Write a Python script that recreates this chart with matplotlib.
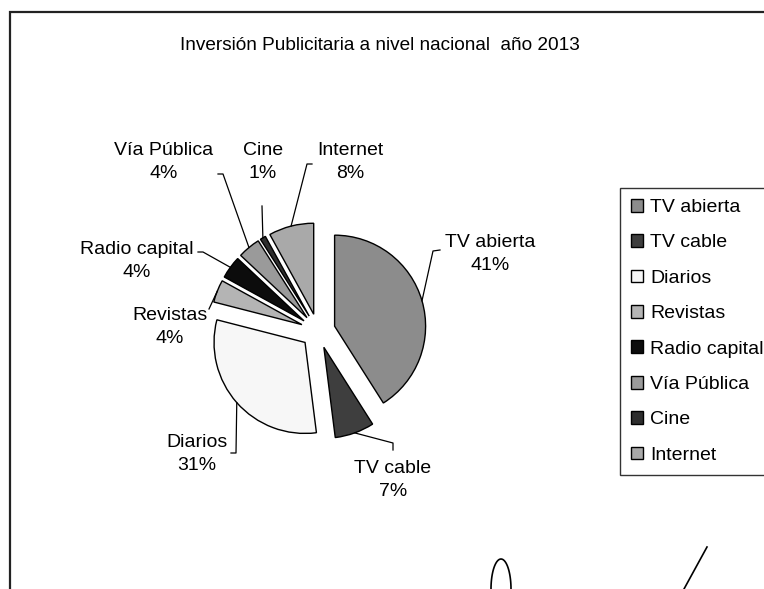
import numpy as np
import matplotlib.pyplot as plt
from matplotlib.lines import Line2D
from matplotlib.patches import Rectangle

plt.rcParams['font.family'] = ['Liberation Sans', 'DejaVu Sans']

# data
categories = ['TV abierta', 'TV cable', 'Diarios', 'Revistas', 'Radio capital',
              'Vía Pública', 'Cine', 'Internet']
shares = [41, 7, 31, 4, 4, 4, 1, 8]
colors = ['#8c8c8c', '#3e3e3e', '#f7f7f7', '#b4b4b4', '#0c0c0c',
          '#9a9a9a', '#2e2e2e', '#a9a9a9']
title = 'Inversión Publicitaria a nivel nacional  año 2013'

W, H = 764, 589
FS = 14
fig = plt.figure(figsize=(W / 100, H / 100), dpi=100)

# pie centre in pixels and pixels per unit radius
CX, CY, R = 318, 331, 91
x0, x1, y0, y1 = -3.0, 3.0, -2.8, 3.3
ax = fig.add_axes([(CX + x0 * R) / W, (H - CY + y0 * R) / H,
                   (x1 - x0) * R / W, (y1 - y0) * R / H])

wedges, _ = ax.pie(shares, colors=colors, startangle=90, counterclock=False,
                   explode=[0.19] * len(shares), radius=1,
                   wedgeprops=dict(edgecolor='black', linewidth=1))
ax.set_aspect('auto')
ax.set_xlim(x0, x1)
ax.set_ylim(y0, y1)
ax.axis('off')


def px(x, y):
    return ((x - CX) / R, (CY - y) / R)


# label centre and leader elbow/end, in pixels
label_pos = [(490, 254), (393, 480), (197, 454), (170, 327),
             (137, 261), (164, 162), (263, 162), (350, 162)]
leader = [[(433, 251), (440, 250)],
          [(393, 443), (393, 450)],
          [(236, 453), (231, 453)],
          [(209, 309)],
          [(203, 252), (198, 252)],
          [(223, 174), (218, 174)],
          [(262, 206)],
          [(307, 164), (312, 164)]]

for w, cat, val, pos, pts in zip(wedges, categories, shares, label_pos, leader):
    mid = np.deg2rad((w.theta1 + w.theta2) / 2)
    ax_pt = (w.center[0] + w.r * np.cos(mid), w.center[1] + w.r * np.sin(mid))
    xs = [ax_pt[0]] + [px(*p)[0] for p in pts]
    ys = [ax_pt[1]] + [px(*p)[1] for p in pts]
    ax.plot(xs, ys, color='black', lw=0.9)
    tx, ty = px(*pos)
    ax.text(tx, ty, f'{cat}\n{val}%', ha='center', va='center',
            fontsize=FS, linespacing=1.45)

fig.text(380 / W, 1 - 45 / H, title, ha='center', va='center', fontsize=FS - 0.3)

# legend box runs off the right edge, as in the scan
leg = fig.legend(wedges, categories, loc='upper left', mode='expand',
                 bbox_to_anchor=(620 / W, 1 - 188 / H, 170 / W, 0),
                 borderaxespad=0, fontsize=FS, frameon=True, fancybox=False,
                 handlelength=0.65, handleheight=0.65, handletextpad=0.35,
                 labelspacing=0.93, borderpad=0.55)
leg.get_frame().set_edgecolor('black')
leg.get_frame().set_linewidth(1)

# page border
fig.add_artist(Rectangle((10 / W, -0.1), 1.2, 1 - 12 / H + 0.1,
                         transform=fig.transFigure, fill=False,
                         edgecolor='#222222', lw=1.6))

# signature strokes at the bottom
t = np.linspace(0, np.pi, 40)
fig.add_artist(Line2D((501 + 10 * np.cos(t)) / W,
                      (H - 589 + 30 * np.sin(t)) / H,
                      transform=fig.transFigure, color='black', lw=1.2))
fig.add_artist(Line2D([707 / W, 684 / W], [1 - 547 / H, 0],
                      transform=fig.transFigure, color='black', lw=1.2))

fig.savefig('out.png', dpi=100)
